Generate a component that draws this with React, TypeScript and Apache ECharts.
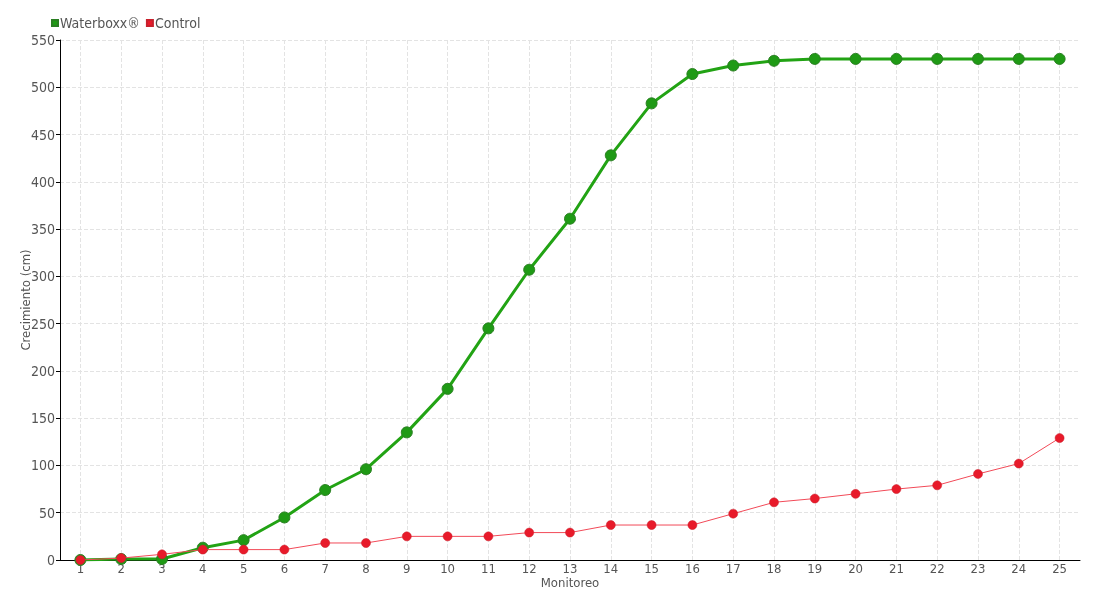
import React, { useEffect, useRef } from "react";
import * as echarts from "echarts";

const categories = ["1","2","3","4","5","6","7","8","9","10","11","12","13","14","15","16","17","18","19","20","21","22","23","24","25"];
const waterboxx = [0, 1, 1, 13, 21, 45, 74, 96, 135, 181, 245, 307, 361, 428, 483, 514, 523, 528, 530, 530, 530, 530, 530, 530, 530];
const control = [0, 2, 6, 11, 11, 11, 18, 18, 25, 25, 25, 29, 29, 37, 37, 37, 49, 61, 65, 70, 75, 79, 91, 102, 129];

const FONT = "'DejaVu Sans Condensed', 'Liberation Sans Narrow', sans-serif";

export default function App() {
  const ref = useRef<HTMLDivElement>(null);
  useEffect(() => {
    const chart = echarts.init(ref.current!, null, { renderer: "svg" });
    chart.setOption({
      animation: false,
      textStyle: { fontFamily: FONT },
      legend: {
        left: 46,
        top: 11,
        itemWidth: 6,
        itemHeight: 6,
        itemGap: 6,
        icon: "rect",
        textStyle: { fontFamily: FONT, fontSize: 14, color: "#555", padding: [0, 0, 0, -3] },
        data: ["Waterboxx®", "Control"],
      },
      grid: { left: 60, right: 20, top: 40, bottom: 40 },
      xAxis: {
        type: "category",
        data: categories,
        boundaryGap: true,
        name: "Monitoreo",
        nameLocation: "middle",
        nameGap: 16,
        nameMoveOverlap: false,
        nameTextStyle: { fontFamily: FONT, fontSize: 13, color: "#555" },
        axisLine: { lineStyle: { color: "#000", width: 1 } },
        axisTick: { alignWithLabel: true, length: 4, lineStyle: { color: "#000" } },
        axisLabel: { fontFamily: FONT, fontSize: 13, color: "#555", margin: 2 },
        splitLine: { show: false },
      },
      yAxis: {
        type: "value",
        min: 0,
        max: 550,
        interval: 50,
        name: "Crecimiento (cm)",
        nameLocation: "middle",
        nameGap: 28,
        nameMoveOverlap: false,
        nameTextStyle: { fontFamily: FONT, fontSize: 13, color: "#555" },
        axisLine: { show: true, lineStyle: { color: "#000", width: 1 } },
        axisTick: { show: true, length: 4, lineStyle: { color: "#000" } },
        axisLabel: { fontFamily: FONT, fontSize: 14, color: "#555", margin: 5 },
        splitLine: { show: true, lineStyle: { type: "dashed", color: "#e3e3e3" } },
      },
      series: [
        {
          name: "grid",
          type: "line",
          data: [],
          silent: true,
          z: 0,
          markLine: {
            silent: true,
            z: 0,
            symbol: "none",
            label: { show: false },
            emphasis: { disabled: true },
            lineStyle: { type: "dashed", color: "#e3e3e3", width: 1 },
            data: categories.map((c) => ({ xAxis: c })),
          },
        },
        {
          name: "Waterboxx®",
          type: "line",
          data: waterboxx,
          color: "#1f9e12",
          symbol: "circle",
          symbolSize: 11,
          lineStyle: { width: 3, color: "#22a314" },
          itemStyle: { color: "#1f9a15", borderColor: "#2a7f22", borderWidth: 1 },
          z: 2,
        },
        {
          name: "Control",
          type: "line",
          data: control,
          color: "#ee1c2e",
          symbol: "circle",
          symbolSize: 9,
          lineStyle: { width: 1, color: "#f24a58" },
          itemStyle: { color: "#e81a2a", borderColor: "#c8202c", borderWidth: 0.5 },
          z: 3,
        },
      ],
    });
    return () => chart.dispose();
  }, []);
  return <div ref={ref} style={{ position: "fixed", left: 0, top: 0, width: 1100, height: 600 }} />;
}
